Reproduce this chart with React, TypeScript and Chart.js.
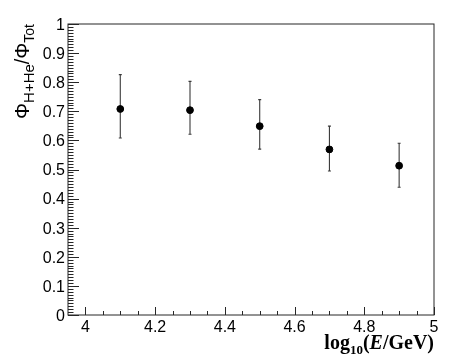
import React, { useEffect, useRef } from "react";
import { Chart, registerables } from "chart.js";

Chart.register(...registerables);

const X_VALUES = [4.1, 4.3, 4.5, 4.7, 4.9];
const Y_VALUES = [0.708, 0.704, 0.649, 0.569, 0.513];
const Y_ERR_HI = [0.826, 0.803, 0.740, 0.649, 0.590];
const Y_ERR_LO = [0.608, 0.621, 0.570, 0.495, 0.439];

const X_TICKS = [4, 4.2, 4.4, 4.6, 4.8, 5];
const X_TICK_LABELS = ["4", "4.2", "4.4", "4.6", "4.8", "5"];
const Y_TICKS = [0, 0.1, 0.2, 0.3, 0.4, 0.5, 0.6, 0.7, 0.8, 0.9, 1];
const Y_TICK_LABELS = ["0", "0.1", "0.2", "0.3", "0.4", "0.5", "0.6", "0.7", "0.8", "0.9", "1"];

const X_MIN = 3.95;
const X_MAX = 5;
const Y_MIN = 0;
const Y_MAX = 1;
const X_MINOR_STEP = 0.05;
const Y_MINOR_STEP = 0.01;

const AXIS_COLOR = "#262626";
const SANS = '"Liberation Sans", Arial, Helvetica, sans-serif';
const SERIF = '"Liberation Serif", "Times New Roman", serif';

const rootPlugin = {
  id: "rootStyle",
  beforeDatasetsDraw(chart: any) {
    const ctx = chart.ctx;
    const xs = chart.scales.x;
    const ys = chart.scales.y;
    ctx.save();
    ctx.strokeStyle = "#3a3a3a";
    ctx.lineWidth = 1.1;
    for (let i = 0; i < X_VALUES.length; i++) {
      const px = xs.getPixelForValue(X_VALUES[i]);
      const top = ys.getPixelForValue(Y_ERR_HI[i]);
      const bot = ys.getPixelForValue(Y_ERR_LO[i]);
      ctx.beginPath();
      ctx.moveTo(px, top);
      ctx.lineTo(px, bot);
      ctx.moveTo(px - 1.5, top);
      ctx.lineTo(px + 1.5, top);
      ctx.moveTo(px - 1.5, bot);
      ctx.lineTo(px + 1.5, bot);
      ctx.stroke();
    }
    ctx.restore();
  },
  afterDraw(chart: any) {
    const ctx = chart.ctx;
    const a = chart.chartArea;
    const xs = chart.scales.x;
    const ys = chart.scales.y;
    ctx.save();
    ctx.strokeStyle = AXIS_COLOR;
    ctx.lineWidth = 1;
    ctx.strokeRect(a.left, a.top, a.right - a.left, a.bottom - a.top);

    // x ticks
    ctx.beginPath();
    const nx = Math.round((X_MAX - X_TICKS[0]) / X_MINOR_STEP);
    for (let k = 0; k <= nx; k++) {
      const v = X_TICKS[0] + k * X_MINOR_STEP;
      const px = Math.round(xs.getPixelForValue(v)) + 0.5;
      const isMajor = k % 4 === 0;
      const len = isMajor ? 8 : 4;
      ctx.moveTo(px, a.bottom);
      ctx.lineTo(px, a.bottom - len);
    }
    // y ticks
    const ny = Math.round((Y_MAX - Y_MIN) / Y_MINOR_STEP);
    for (let k = 0; k <= ny; k++) {
      const v = Y_MIN + k * Y_MINOR_STEP;
      const py = Math.round(ys.getPixelForValue(v)) + 0.5;
      const isMajor = k % 10 === 0;
      const len = isMajor ? 11 : 5.5;
      ctx.moveTo(a.left, py);
      ctx.lineTo(a.left + len, py);
    }
    ctx.stroke();

    // tick labels
    ctx.fillStyle = "#000";
    ctx.font = `16px ${SANS}`;
    ctx.textAlign = "center";
    ctx.textBaseline = "alphabetic";
    X_TICKS.forEach((v, i) => {
      ctx.fillText(X_TICK_LABELS[i], xs.getPixelForValue(v), a.bottom + 17);
    });
    ctx.textAlign = "right";
    Y_TICKS.forEach((v, i) => {
      ctx.fillText(Y_TICK_LABELS[i], a.left - 3, ys.getPixelForValue(v) + 5.8);
    });

    // x title: log10(E/GeV), right aligned
    const parts = [
      { t: "log", f: `bold 20px ${SERIF}`, dy: 0 },
      { t: "10", f: `bold 13px ${SERIF}`, dy: 5 },
      { t: "(", f: `bold 20px ${SERIF}`, dy: 0 },
      { t: "E", f: `italic bold 20px ${SERIF}`, dy: 0 },
      { t: "/GeV)", f: `bold 20px ${SERIF}`, dy: 0 },
    ];
    let total = 0;
    for (const p of parts) {
      ctx.font = p.f;
      total += ctx.measureText(p.t).width;
    }
    let x = a.right - total;
    const base = 349;
    ctx.textAlign = "left";
    for (const p of parts) {
      ctx.font = p.f;
      ctx.fillText(p.t, x, base + p.dy);
      x += ctx.measureText(p.t).width;
    }

    // y title: Φ_{H+He}/Φ_{Tot}, rotated
    const yparts = [
      { t: "Φ", f: `20px ${SANS}`, dy: 0 },
      { t: "H+He", f: `15px ${SANS}`, dy: 5 },
      { t: "/", f: `20px ${SANS}`, dy: 0 },
      { t: "Φ", f: `20px ${SANS}`, dy: 0 },
      { t: "Tot", f: `14px ${SANS}`, dy: 5 },
    ];
    let ytotal = 0;
    for (const p of yparts) {
      ctx.font = p.f;
      ytotal += ctx.measureText(p.t).width;
    }
    ctx.translate(29, a.top + ytotal);
    ctx.rotate(-Math.PI / 2);
    let tx = 0;
    for (const p of yparts) {
      ctx.font = p.f;
      ctx.fillText(p.t, tx, p.dy);
      tx += ctx.measureText(p.t).width;
    }
    ctx.restore();
  },
};

export default function App() {
  const ref = useRef<HTMLCanvasElement | null>(null);
  useEffect(() => {
    document.body.style.margin = "0";
    const canvas = ref.current;
    if (!canvas) return;
    const chart = new Chart(canvas, {
      type: "scatter",
      data: {
        datasets: [
          {
            label: "ratio",
            data: X_VALUES.map((x, i) => ({ x, y: Y_VALUES[i] })),
            backgroundColor: "#000",
            borderColor: "#000",
            pointRadius: 3.4,
            pointHoverRadius: 3.4,
            showLine: false,
          },
        ],
      },
      options: {
        animation: false,
        responsive: false,
        maintainAspectRatio: false,
        devicePixelRatio: 1,
        layout: { padding: { left: 68, right: 23, top: 24, bottom: 48 } },
        plugins: { legend: { display: false }, tooltip: { enabled: false } },
        events: [],
        scales: {
          x: { type: "linear", min: X_MIN, max: X_MAX, display: false },
          y: { type: "linear", min: Y_MIN, max: Y_MAX, display: false },
        },
      },
      plugins: [rootPlugin],
    });
    return () => chart.destroy();
  }, []);
  return (
    <div style={{ width: 457, height: 363, background: "#fff" }}>
      <canvas ref={ref} width={457} height={363} style={{ display: "block", width: 457, height: 363 }} />
    </div>
  );
}
